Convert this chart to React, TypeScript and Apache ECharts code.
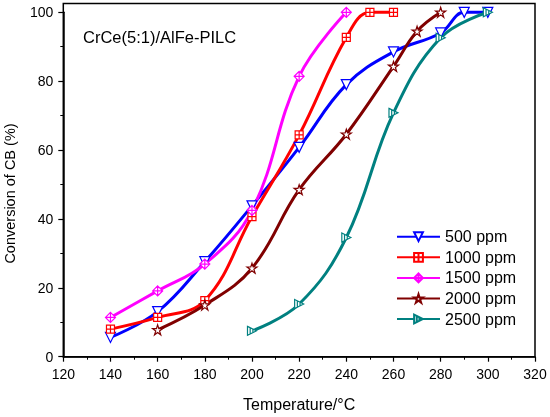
import React, { useEffect, useRef } from "react";
import * as echarts from "echarts";

const seriesNames = ["500 ppm", "1000 ppm", "1500 ppm", "2000 ppm", "2500 ppm"];

const temps500 = [140, 160, 180, 200, 220, 240, 260, 280, 290, 300];
const conv500 = [5.6, 13.1, 27.6, 43.8, 60.8, 79, 88.5, 94, 100, 100];

const temps1000 = [140, 160, 180, 200, 220, 240, 250, 260];
const conv1000 = [8, 11.4, 16.3, 40.7, 64.4, 92.7, 100, 100];

const temps1500 = [140, 160, 180, 200, 220, 240];
const conv1500 = [11.4, 19.1, 26.9, 42.5, 81.4, 100];

const temps2000 = [160, 180, 200, 220, 240, 260, 270, 280];
const conv2000 = [7.8, 15, 25.7, 48.5, 64.6, 84.3, 94.5, 100];

const temps2500 = [200, 220, 240, 260, 280, 300];
const conv2500 = [7.5, 15.3, 34.6, 70.8, 92.6, 100];

const xTicks = [120, 140, 160, 180, 200, 220, 240, 260, 280, 300, 320];
const yTicks = [0, 20, 40, 60, 80, 100];

const colors = ["#0000ff", "#ff0000", "#ff00ff", "#800000", "#008080"];
const symbols = [
  "path://M0,0 L10,0 L5,10 Z",
  "path://M0,0 H10 V10 H0 Z M5,0 V10 M0,5 H10",
  "path://M5,0 L10,5 L5,10 L0,5 Z M5,0 V10 M0,5 H10",
  "path://M5,0 L6.2,3.8 L10,3.8 L6.9,6.1 L8.1,10 L5,7.6 L1.9,10 L3.1,6.1 L0,3.8 L3.8,3.8 Z",
  "path://M0,0 L10,5 L0,10 Z M3,1.5 V8.5 M6,3 V7",
];
const symbolSizes = [10, 8, 10, 10, 9];

const FONT = "Liberation Sans, Arial, sans-serif";

export default function App() {
  const ref = useRef<HTMLDivElement>(null);
  useEffect(() => {
    if (!ref.current) return;
    const chart = echarts.init(ref.current, undefined, { renderer: "svg" });
    const allT = [temps500, temps1000, temps1500, temps2000, temps2500];
    const allV = [conv500, conv1000, conv1500, conv2000, conv2500];
    const L = 63.3, R = 535, T = 12.3, B = 356.7;
    chart.setOption({
      animation: false,
      textStyle: { fontFamily: FONT, color: "#000" },
      grid: {
        left: L,
        right: 550 - R,
        top: T,
        bottom: 417 - B,
        containLabel: false,
        outerBoundsMode: "none",
      },
      xAxis: {
        type: "value",
        min: xTicks[0],
        max: xTicks[xTicks.length - 1],
        interval: 20,
        name: "Temperature/°C",
        nameLocation: "middle",
        nameGap: 40,
        nameTextStyle: { fontSize: 16, fontFamily: FONT, color: "#000" },
        axisLine: { onZero: false, lineStyle: { color: "#000", width: 1.5 } },
        axisTick: { inside: false, length: 5, lineStyle: { color: "#000", width: 1.2 } },
        minorTick: { show: true, splitNumber: 2, length: 3, lineStyle: { color: "#000", width: 1 } },
        axisLabel: { fontSize: 14, color: "#000", margin: 10, fontFamily: FONT },
        splitLine: { show: false },
      },
      yAxis: {
        type: "value",
        min: yTicks[0],
        max: yTicks[yTicks.length - 1],
        interval: 20,
        name: "Conversion of CB (%)",
        nameLocation: "middle",
        nameGap: 46,
        nameTextStyle: { fontSize: 14.5, fontFamily: FONT, color: "#000", padding: [0, 18, 0, 0] },
        axisLine: { onZero: false, lineStyle: { color: "#000", width: 1.5 } },
        axisTick: { inside: false, length: 5, lineStyle: { color: "#000", width: 1.2 } },
        minorTick: { show: true, splitNumber: 2, length: 3, lineStyle: { color: "#000", width: 1 } },
        axisLabel: { fontSize: 14, color: "#000", margin: 10, fontFamily: FONT },
        splitLine: { show: false },
      },
      legend: {
        orient: "vertical",
        left: 391,
        top: 223.7,
        itemWidth: 43,
        itemHeight: 11,
        itemGap: 4.6,
        textStyle: { fontSize: 16, fontFamily: FONT, color: "#000" },
        data: seriesNames,
      },
      graphic: [
        {
          type: "rect",
          shape: { x: L, y: 3.5, width: R - L, height: B - 3.5 },
          style: { fill: "none", stroke: "#000", lineWidth: 1.5 },
          silent: true,
          z: 10,
        },
        {
          type: "text",
          x: 83,
          y: 36.5,
          style: {
            text: "CrCe(5:1)/AlFe-PILC",
            font: `16.5px ${FONT}`,
            fill: "#000",
            verticalAlign: "middle",
            align: "left",
          },
        },
      ],
      series: seriesNames.map((name, i) => ({
        name,
        type: "line",
        smooth: 0.4,
        clip: false,
        symbol: symbols[i],
        symbolSize: symbolSizes[i],
        showAllSymbol: true,
        lineStyle: { color: colors[i], width: 3 },
        itemStyle: { color: "#fff", borderColor: colors[i], borderWidth: 1.2 },
        emphasis: { disabled: true },
        data: allT[i].map((t, j) => [t, allV[i][j]]),
      })),
    });
    return () => chart.dispose();
  }, []);
  return (
    <div
      ref={ref}
      style={{ position: "fixed", left: 0, top: 0, width: 550, height: 417 }}
    />
  );
}
